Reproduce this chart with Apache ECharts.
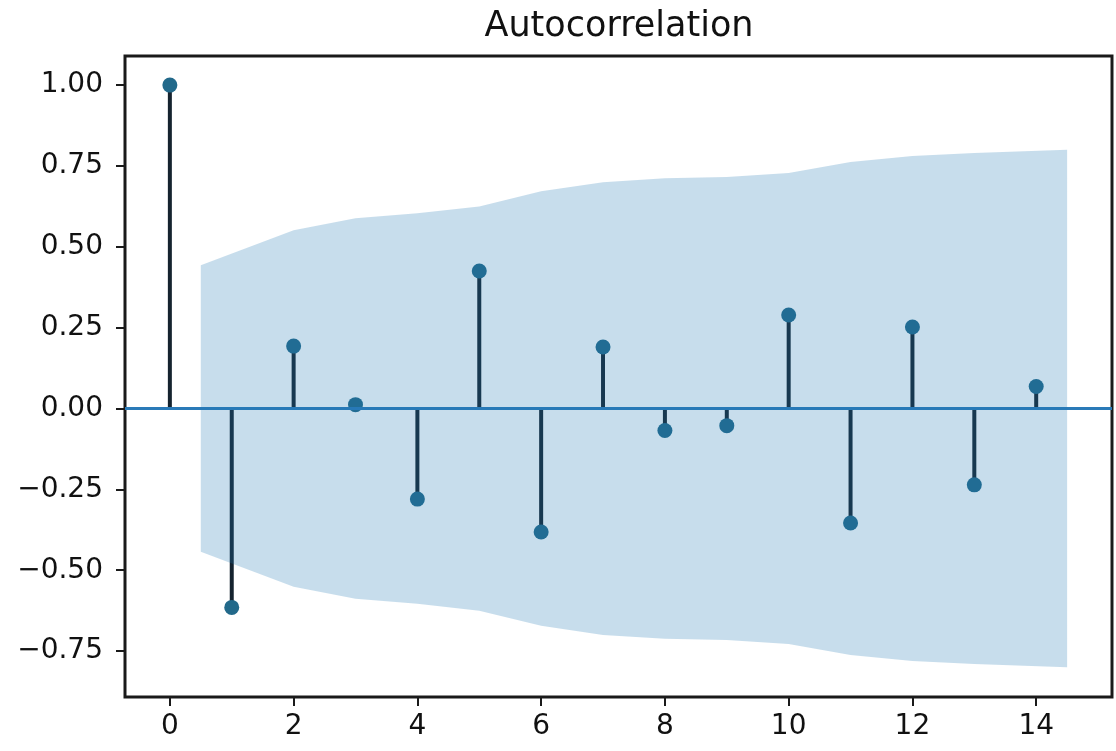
<!DOCTYPE html>
<html>
<head>
<meta charset="utf-8">
<script src="https://cdn.jsdelivr.net/npm/echarts@6/dist/echarts.min.js"></script>
<style>
html,body{margin:0;padding:0;background:#fff;}
#chart{width:1116px;height:751px;}
</style>
</head>
<body>
<div id="chart"></div>
<script>
// ---- data ----
const lags = [0,1,2,3,4,5,6,7,8,9,10,11,12,13,14];
const acfValues = [1.00,-0.615,0.193,0.012,-0.28,0.425,-0.382,0.19,-0.068,-0.053,0.289,-0.354,0.252,-0.236,0.068];
const bandLags = [0.5,2,3,4,5,6,7,8,9,10,11,12,13,14.5];
const bandUpper = [0.443,0.551,0.588,0.604,0.625,0.672,0.700,0.712,0.716,0.728,0.762,0.781,0.790,0.800];
const bandLower = [-0.443,-0.551,-0.588,-0.604,-0.625,-0.672,-0.700,-0.712,-0.716,-0.728,-0.762,-0.781,-0.790,-0.800];
const xTicks = [0,2,4,6,8,10,12,14];
const yTicks = [-0.75,-0.5,-0.25,0,0.25,0.5,0.75,1.0];
const titleText = 'Autocorrelation';

const FONT = 'DejaVu Sans';
const chart = echarts.init(document.getElementById('chart'), null, {renderer:'canvas'});

const bandData = bandLags.map((x,i)=>[x, bandUpper[i], bandLower[i]]);

const option = {
  animation:false,
  backgroundColor:'#ffffff',
  title:{
    text:titleText,
    left:614, top:4, textAlign:'center',
    textStyle:{fontFamily:FONT,fontSize:35,fontWeight:'normal',color:'#111'}
  },
  grid:{left:125,right:4,top:56,bottom:54,show:true,borderColor:'#1a1a1a',borderWidth:3,backgroundColor:'transparent'},
  xAxis:{
    type:'value', min:-0.725, max:15.225,
    axisLine:{show:false,onZero:false},
    splitLine:{show:false},
    axisTick:{show:true,customValues:xTicks,length:9,lineStyle:{color:'#1a1a1a',width:2}},
    axisLabel:{customValues:xTicks,fontFamily:FONT,fontSize:28,color:'#111',margin:16,hideOverlap:false}
  },
  yAxis:{
    type:'value', min:-0.892, max:1.09,
    axisLine:{show:false,onZero:false},
    splitLine:{show:false},
    axisTick:{show:true,customValues:yTicks,length:9,lineStyle:{color:'#1a1a1a',width:2}},
    axisLabel:{customValues:yTicks,fontFamily:FONT,fontSize:28,color:'#111',margin:22,hideOverlap:false,
      formatter:v=>{const s=Math.abs(v).toFixed(2);return (v<-1e-9?'\u2212':'')+s;}}
  },
  series:[
    {
      type:'custom', name:'stems', z:2, silent:true,
      data:lags.map((x,i)=>[x,acfValues[i]]),
      renderItem:(params,api)=>{
        const p0=api.coord([api.value(0),0]);
        const p1=api.coord([api.value(0),api.value(1)]);
        return {type:'line',shape:{x1:p0[0],y1:p0[1],x2:p1[0],y2:p1[1]},style:{stroke:'#15232f',lineWidth:4}};
      }
    },
    {
      type:'line', name:'zero', z:3, silent:true, data:[],
      markLine:{silent:true,symbol:'none',label:{show:false},
        lineStyle:{color:'#2a7ab8',width:3,type:'solid'},data:[{yAxis:0}]}
    },
    {
      type:'scatter', name:'acf', z:4, silent:true,
      data:lags.map((x,i)=>[x,acfValues[i]]),
      symbol:'circle', symbolSize:15,
      itemStyle:{color:'#22698a',opacity:1}
    },
    {
      type:'custom', name:'band', z:5, silent:true,
      data:bandData,
      renderItem:(params,api)=>{
        if(params.dataIndex!==0) return null;
        const top=bandData.map(d=>api.coord([d[0],d[1]]));
        const bot=bandData.slice().reverse().map(d=>api.coord([d[0],d[2]]));
        return {type:'polygon',shape:{points:top.concat(bot)},style:{fill:'rgba(31,119,180,0.25)',stroke:'none'}};
      }
    }
  ]
};
chart.setOption(option);
</script>
</body>
</html>
